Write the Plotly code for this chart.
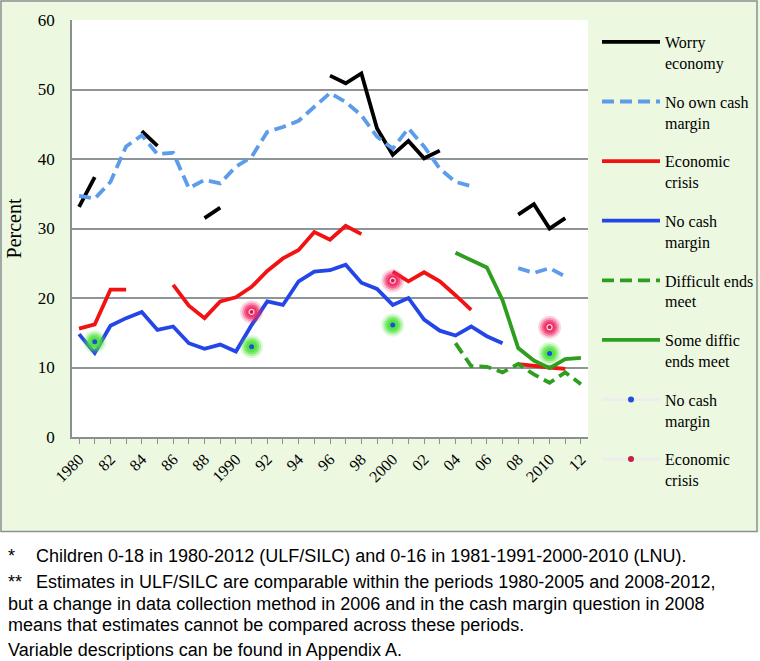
import plotly.graph_objects as go

YEARS = list(range(1980, 2013))

WORRY_ECONOMY = [33.1, 37.4, None, None, 44.0, 41.9, None, None, 31.5, 33.0,
                 None, None, None, None, None, None, 52.0, 50.9, 52.3, 44.4,
                 40.6, 42.6, 40.1, 41.2, None, None, None, None, 32.0, 33.5,
                 30.0, 31.5, None]
NO_OWN_CASH = [34.7, 34.3, 36.7, 41.8, 43.4, 40.7, 40.9, 35.8, 37.0, 36.5,
               38.9, 40.3, 43.9, 44.6, 45.5, 47.5, 49.5, 48.2, 46.3, 43.2,
               41.5, 44.4, 41.8, 38.6, 36.7, 36.1, None, None, 24.3, 23.6,
               24.3, 23.1, None]
ECON_CRISIS = [15.6, 16.2, 21.2, 21.2, None, None, 21.9, 18.9, 17.1, 19.5,
               20.1, 21.6, 23.9, 25.7, 26.9, 29.5, 28.4, 30.4, 29.2, None,
               23.8, 22.4, 23.7, 22.4, 20.4, 18.3, None, None, 10.5, 10.2,
               10.0, 9.8, None]
NO_CASH = [14.8, 12.1, 16.0, 17.1, 18.0, 15.4, 15.9, 13.5, 12.7, 13.3,
           12.3, 16.1, 19.5, 19.0, 22.4, 23.8, 24.0, 24.8, 22.2, 21.3,
           19.0, 20.0, 16.9, 15.3, 14.6, 15.9, 14.5, 13.5, None, None,
           None, None, None]
DIFFICULT = [None] * 24 + [13.5, 10.2, 10.1, 9.3, 10.5, 9.0, 7.8, 9.3, 7.6]
SOME_DIFFIC = [None] * 24 + [26.5, 25.4, 24.4, 19.7, 12.8, 11.0, 9.9, 11.2, 11.4]

LNU_NOCASH_YEARS = [1981, 1991, 2000, 2010]
LNU_NOCASH = [13.7, 13.0, 16.1, 12.0]
LNU_CRISIS_YEARS = [1991, 2000, 2010]
LNU_CRISIS = [18.0, 22.5, 15.8]

TICK_VALS = YEARS
TICK_TEXT = ["1980", "", "82", "", "84", "", "86", "", "88", "", "1990", "", "92", "", "94", "",
             "96", "", "98", "", "2000", "", "02", "", "04", "", "06", "", "08", "", "2010", "", "12"]

NAMES = ["Worry<br>economy", "No own cash<br>margin", "Economic<br>crisis", "No cash<br>margin",
         "Difficult ends<br>meet", "Some diffic<br>ends meet", "No cash<br>margin", "Economic<br>crisis"]

FOOTNOTES = [
    ("*", "Children 0-18 in 1980-2012 (ULF/SILC) and 0-16 in 1981-1991-2000-2010 (LNU)."),
    ("**", "Estimates in ULF/SILC are comparable within the periods 1980-2005 and 2008-2012,"),
    ("", "but a change in data collection method in 2006 and in the cash margin question in 2008"),
    ("", "means that estimates cannot be compared across these periods."),
    ("", "Variable descriptions can be found in Appendix A."),
]

W, H = 760, 661
ML, MR, MT, MB = 72, 172, 20, 224
PW, PH = W - ML - MR, H - MT - MB


def px_x(px):
    return (px - ML) / PW


def px_y(py):
    return (H - MB - py) / PH


SERIF = "Liberation Serif, Times New Roman, serif"
LW = 3.8
BLACK = "#000000"
LBLUE = "#5C9CEA"
RED = "#F21212"
BLUE = "#2446E8"
GREEN = "#2E9E1E"

fig = go.Figure()

series = [
    (WORRY_ECONOMY, BLACK, "solid", NAMES[0]),
    (NO_OWN_CASH, LBLUE, "12px,6px", NAMES[1]),
    (ECON_CRISIS, RED, "solid", NAMES[2]),
    (NO_CASH, BLUE, "solid", NAMES[3]),
    (DIFFICULT, GREEN, "12px,6px", NAMES[4]),
    (SOME_DIFFIC, GREEN, "solid", NAMES[5]),
]
for i, (vals, col, dash, name) in enumerate(series):
    fig.add_trace(go.Scatter(x=YEARS, y=vals, mode="lines", name=name,
                             line=dict(color=col, width=LW, dash=dash),
                             connectgaps=False, legendgroup=f"g{i}",
                             legendrank=i + 1))


def glow(xs, ys, rgb, core_color, core_size, rank, name, core_line=None):
    for size, op in [(23, 0.2), (19, 0.35), (15, 0.55), (11, 0.8)]:
        fig.add_trace(go.Scatter(x=xs, y=ys, mode="markers", showlegend=False,
                                 hoverinfo="skip",
                                 marker=dict(size=size, color=f"rgba({rgb},{op})",
                                             line=dict(width=0))))
    fig.add_trace(go.Scatter(x=xs, y=ys, mode="markers", showlegend=False,
                             marker=dict(size=core_size, color=core_color, symbol="circle",
                                         line=core_line or dict(width=0))))
    fig.add_trace(go.Scatter(x=[None], y=[None], mode="lines+markers", name=name,
                             legendgroup=f"g{rank}", legendrank=rank + 1,
                             line=dict(color="#EDEDED", width=3),
                             marker=dict(size=6, color=core_color, symbol="circle")))


glow(LNU_NOCASH_YEARS, LNU_NOCASH, "80,225,60", "#1F4FD8", 5, 6, NAMES[6])
glow(LNU_CRISIS_YEARS, LNU_CRISIS, "240,40,100", "#C81E46", 5, 7, NAMES[7],
     core_line=dict(width=1.2, color="#FFD8E0"))

annotations = []
ys = [556, 582, 604, 625, 650]
FN_FONT = dict(family="Liberation Sans Narrow, Arial Narrow, Liberation Sans, sans-serif",
               size=18, color="#000000")
for (star, text), py in zip(FOOTNOTES, ys):
    if star:
        annotations.append(dict(x=px_x(6), y=px_y(py), xref="paper", yref="paper",
                                text=star, showarrow=False, xanchor="left", yanchor="middle",
                                font=FN_FONT))
        annotations.append(dict(x=px_x(34), y=px_y(py), xref="paper", yref="paper",
                                text=text, showarrow=False, xanchor="left", yanchor="middle",
                                font=FN_FONT))
    else:
        annotations.append(dict(x=px_x(6), y=px_y(py), xref="paper", yref="paper",
                                text=text, showarrow=False, xanchor="left", yanchor="middle",
                                font=FN_FONT))

shapes = [
    dict(type="rect", xref="paper", yref="paper", x0=px_x(-5), x1=px_x(W + 5),
         y0=px_y(532), y1=px_y(H + 5), fillcolor="white", line=dict(width=0), layer="below"),
    dict(type="rect", xref="paper", yref="paper", x0=px_x(1), x1=px_x(757),
         y0=px_y(531.5), y1=px_y(1), fillcolor="rgba(0,0,0,0)",
         line=dict(width=1.5, color="#8A8F92"), layer="below"),
]

fig.update_layout(
    width=W, height=H,
    margin=dict(l=ML, r=MR, t=MT, b=MB, autoexpand=False),
    paper_bgcolor="#ECF8E0",
    plot_bgcolor="#FFFFFF",
    font=dict(family=SERIF, size=16, color="#000000"),
    showlegend=True,
    legend=dict(x=px_x(597), y=px_y(25), xanchor="left", yanchor="top",
                bgcolor="rgba(0,0,0,0)", font=dict(family=SERIF, size=16),
                tracegroupgap=15, traceorder="grouped", valign="top",
                itemwidth=58, maxheight=640),
    xaxis=dict(range=[1979.55, 2012.45], tickvals=TICK_VALS, ticktext=TICK_TEXT,
               tickangle=-45, ticks="outside", ticklen=5, tickcolor="#8A8F92",
               showgrid=False, showline=True, linecolor="#8A8F92", linewidth=1.5,
               zeroline=False, tickfont=dict(family=SERIF, size=16)),
    yaxis=dict(range=[0, 60], dtick=10, showgrid=True, gridcolor="#8E9598", gridwidth=1.5,
               showline=True, linecolor="#8A8F92", linewidth=1.5, zeroline=False,
               ticks="", ticklabelstandoff=12,
               tickfont=dict(family=SERIF, size=17),
               title=dict(text="Percent", font=dict(family=SERIF, size=20), standoff=11)),
    annotations=annotations,
    shapes=shapes,
)

fig.write_html("out.html", config={"displayModeBar": False},
               post_script="document.body.style.margin='0px';")
